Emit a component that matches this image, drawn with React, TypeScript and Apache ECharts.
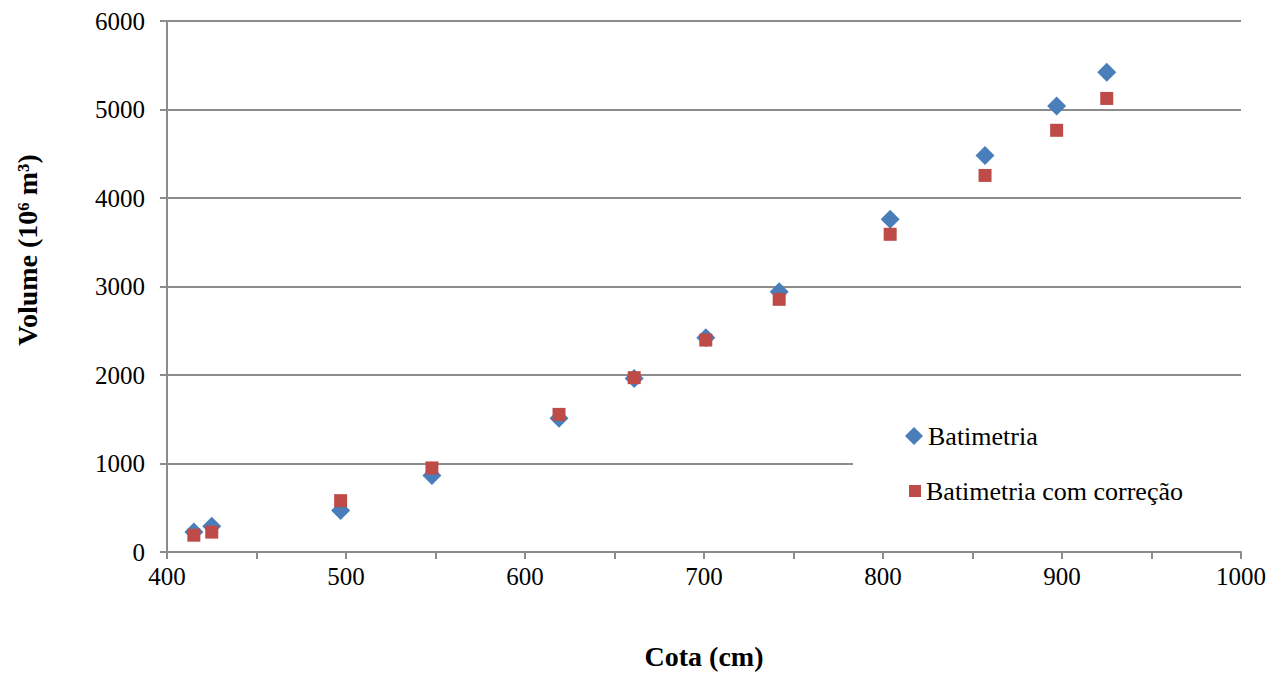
import React, { useEffect, useRef } from "react";
import * as echarts from "echarts";

const cota = [415, 425, 497, 548, 619, 661, 701, 742, 804, 857, 897, 925];
const batimetria = [225, 290, 470, 865, 1510, 1960, 2420, 2940, 3760, 4480, 5040, 5420];
const batimetriaCorrecao = [190, 225, 580, 950, 1555, 1970, 2395, 2855, 3590, 4255, 4765, 5125];
const seriesNames = ["Batimetria", "Batimetria com correção"];
const xTitle = "Cota (cm)";
const yTitle = "Volume (10⁶ m³)";

const FONT = "Liberation Serif";
const GRAY = "#8c8c8c";

export default function App() {
  const ref = useRef<HTMLDivElement>(null);
  useEffect(() => {
    if (!ref.current) return;
    const chart = echarts.init(ref.current, undefined, { renderer: "svg" });
    chart.setOption({
      animation: false,
      backgroundColor: "#ffffff",
      textStyle: { fontFamily: FONT },
      grid: { left: 167, right: 31, top: 21, bottom: 119, containLabel: false },
      xAxis: {
        type: "value",
        min: 400,
        max: 1000,
        interval: 100,
        name: xTitle,
        nameLocation: "middle",
        nameGap: 90,
        nameTextStyle: { fontFamily: FONT, fontSize: 28, fontWeight: "bold", color: "#000" },
        axisLine: { show: true, onZero: false, lineStyle: { color: GRAY, width: 2 } },
        axisTick: { show: true, length: 7, lineStyle: { color: GRAY, width: 2 } },
        minorTick: { show: true, splitNumber: 2, length: 7, lineStyle: { color: GRAY, width: 2 } },
        axisLabel: {
          fontFamily: FONT,
          fontSize: 25,
          color: "#000",
          margin: 12,
          formatter: (v: number) => String(v),
        },
        splitLine: { show: false },
      },
      yAxis: {
        type: "value",
        min: 0,
        max: 6000,
        interval: 1000,
        axisLine: { show: true, lineStyle: { color: GRAY, width: 2 } },
        axisTick: { show: true, length: 7, lineStyle: { color: GRAY, width: 2 } },
        axisLabel: {
          fontFamily: FONT,
          fontSize: 25,
          color: "#000",
          margin: 22,
          formatter: (v: number) => String(v),
        },
        splitLine: { show: true, lineStyle: { color: GRAY, width: 2 } },
      },
      graphic: [
        {
          type: "rect",
          z: 10,
          shape: { x: 853, y: 400, width: 400, height: 110 },
          style: { fill: "#ffffff" },
          silent: true,
        },
        {
          type: "text",
          z: 10,
          x: 27,
          y: 250,
          rotation: Math.PI / 2,
          silent: true,
          style: {
            text: yTitle,
            fontFamily: FONT,
            fontSize: 28,
            fontWeight: "bold",
            fill: "#000",
            textAlign: "center",
            textVerticalAlign: "middle",
          },
        },
      ],
      legend: [
        {
          data: [{ name: seriesNames[0], icon: "diamond" }],
          left: 905,
          top: 423,
          padding: 0,
          itemWidth: 18,
          itemHeight: 18,
          itemGap: 0,
          z: 20,
          textStyle: { fontFamily: FONT, fontSize: 26, color: "#000" },
        },
        {
          data: [{ name: seriesNames[1], icon: "rect" }],
          left: 909,
          top: 478,
          padding: 0,
          itemWidth: 12,
          itemHeight: 12,
          itemGap: 0,
          z: 20,
          textStyle: { fontFamily: FONT, fontSize: 26, color: "#000" },
        },
      ],
      series: [
        {
          name: seriesNames[0],
          type: "scatter",
          symbol: "diamond",
          symbolSize: 19,
          itemStyle: { color: "#4a7ebb", opacity: 1 },
          data: cota.map((x, i) => [x, batimetria[i]]),
          z: 2,
        },
        {
          name: seriesNames[1],
          type: "scatter",
          symbol: "rect",
          symbolSize: 13,
          itemStyle: { color: "#be4b48", opacity: 1 },
          data: cota.map((x, i) => [x, batimetriaCorrecao[i]]),
          z: 3,
        },
      ],
    });
    return () => chart.dispose();
  }, []);
  return (
    <div
      ref={ref}
      style={{ position: "fixed", left: 0, top: 0, width: 1272, height: 675, background: "#fff" }}
    />
  );
}
